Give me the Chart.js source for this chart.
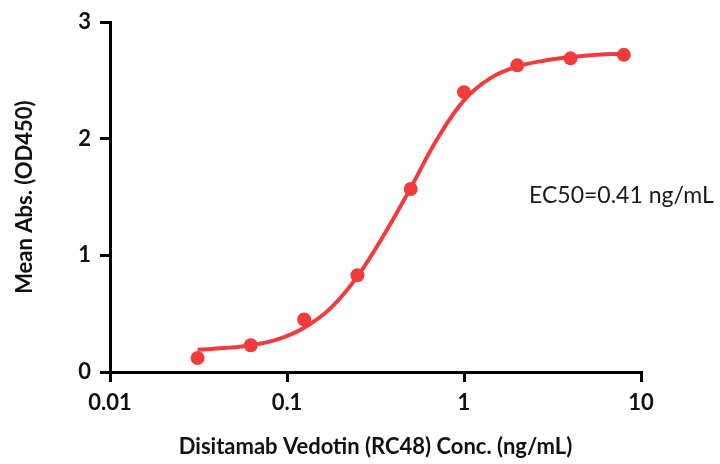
<!DOCTYPE html>
<html lang="en">
<head>
    <meta charset="UTF-8">
    <title>Disitamab Vedotin binding curve</title>
    <script src="https://cdn.jsdelivr.net/npm/chart.js@4.4.1/dist/chart.umd.min.js"></script>
    <style>
        body {
            margin: 0;
            padding: 0;
            background: #ffffff;
        }

        .chart-container {
            position: relative;
            width: 720px;
            height: 464px;
        }
    </style>
</head>
<body>
<div class="chart-container">
    <canvas id="ec50Chart" width="720" height="464"></canvas>
</div>

<script>
    // measured points (ng/mL, OD450)
    const concentrations = [0.03125, 0.0625, 0.125, 0.25, 0.5, 1, 2, 4, 8];
    const meanAbs = [0.12, 0.23, 0.45, 0.83, 1.57, 2.40, 2.63, 2.69, 2.72];

    // fitted curve
    const fitConc = [0.03125, 0.0442, 0.0625, 0.0884, 0.125, 0.177, 0.25, 0.354, 0.5,
                     0.707, 1, 1.41, 2, 2.83, 4, 5.66, 8];
    const fitAbs = [0.19, 0.205, 0.23, 0.28, 0.38, 0.55, 0.82, 1.18, 1.58,
                    2.00, 2.33, 2.52, 2.62, 2.67, 2.70, 2.72, 2.73];

    const xTicks = [0.01, 0.1, 1, 10];
    const xTickLabels = ['0.01', '0.1', '1', '10'];
    const yTicks = [0, 1, 2, 3];

    const ec50Label = 'EC50=0.41 ng/mL';
    const red = '#f23b3d';
    const fontFamily = "Lato, 'Open Sans', sans-serif";

    const ec50Text = {
        id: 'ec50Text',
        afterDraw(chart) {
            const ctx = chart.ctx;
            ctx.save();
            ctx.font = '23px ' + fontFamily;
            ctx.fillStyle = '#1a1a1a';
            ctx.textAlign = 'left';
            ctx.textBaseline = 'middle';
            ctx.fillText(ec50Label, 529, 196);
            ctx.restore();
        }
    };

    const ctx = document.getElementById('ec50Chart').getContext('2d');
    new Chart(ctx, {
        type: 'line',
        data: {
            datasets: [{
                label: 'Fit',
                data: fitConc.map((c, i) => ({ x: c, y: fitAbs[i] })),
                borderColor: red,
                borderWidth: 4,
                pointRadius: 0,
                tension: 0.4,
                fill: false
            }, {
                label: 'Mean Abs.',
                data: concentrations.map((c, i) => ({ x: c, y: meanAbs[i] })),
                showLine: false,
                pointRadius: 7,
                pointBackgroundColor: red,
                pointBorderColor: red,
                pointBorderWidth: 0
            }]
        },
        options: {
            responsive: false,
            animation: false,
            layout: {
                padding: { top: 20, right: 79, left: 0, bottom: 0 }
            },
            plugins: {
                legend: { display: false },
                tooltip: { enabled: false }
            },
            scales: {
                x: {
                    type: 'logarithmic',
                    min: 0.01,
                    max: 10,
                    afterBuildTicks: (scale) => {
                        scale.ticks = xTicks.map(v => ({ value: v }));
                    },
                    afterFit: (scale) => { scale.height = 92; },
                    ticks: {
                        color: '#111111',
                        font: { family: fontFamily, size: 22, weight: 'bold' },
                        padding: 8,
                        maxRotation: 0,
                        autoSkip: false,
                        callback: (value) => {
                            const i = xTicks.indexOf(value);
                            return i >= 0 ? xTickLabels[i] : '';
                        }
                    },
                    grid: {
                        drawOnChartArea: false,
                        color: '#000000',
                        lineWidth: 3,
                        tickLength: 10
                    },
                    border: { color: '#000000', width: 3 },
                    title: {
                        display: true,
                        text: 'Disitamab Vedotin (RC48) Conc. (ng/mL)',
                        color: '#111111',
                        font: { family: fontFamily, size: 22, weight: 'bold' },
                        padding: { top: 6 }
                    }
                },
                y: {
                    min: 0,
                    max: 3,
                    afterBuildTicks: (scale) => {
                        scale.ticks = yTicks.map(v => ({ value: v }));
                    },
                    afterFit: (scale) => { scale.width = 110; },
                    ticks: {
                        color: '#111111',
                        font: { family: fontFamily, size: 22, weight: 'bold' },
                        padding: 9
                    },
                    grid: {
                        drawOnChartArea: false,
                        color: '#000000',
                        lineWidth: 3,
                        tickLength: 10
                    },
                    border: { color: '#000000', width: 3 },
                    title: {
                        display: true,
                        text: 'Mean Abs. (OD450)',
                        color: '#111111',
                        font: { family: fontFamily, size: 22, weight: 'bold' },
                        padding: { top: 12, bottom: 0 }
                    }
                }
            }
        },
        plugins: [ec50Text]
    });
</script>
</body>
</html>
